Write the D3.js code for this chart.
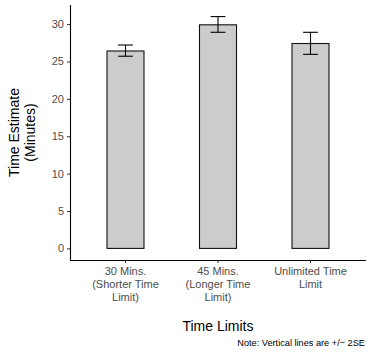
<!DOCTYPE html>
<html>
<head>
<meta charset="utf-8">
<script src="https://cdn.jsdelivr.net/npm/d3@7"></script>
<style>
  body { margin: 0; background: #fff; }
  text { font-family: "Liberation Sans", Arial, sans-serif; }
</style>
</head>
<body>
<div id="chart"></div>
<script>
// data
var categories = ["30 Mins.\n(Shorter Time\nLimit)", "45 Mins.\n(Longer Time\nLimit)", "Unlimited Time\nLimit"]
var means = [26.4, 29.9, 27.4]
var lower = [25.7, 28.9, 25.95]
var upper = [27.2, 31.0, 28.9]
var yTicks = [0, 5, 10, 15, 20, 25, 30]

var width = 371,
  height = 353,
  margin = {top: 5, right: 5, bottom: 93, left: 70}

var svg = d3.select("#chart").append("svg")
  .attr("width", width)
  .attr("height", height)

var x = d3.scaleLinear()
  .domain([0.4, 3.6])
  .range([margin.left, width - margin.right])

var yMax = d3.max(upper)
var y = d3.scaleLinear()
  .domain([-0.05 * yMax, yMax * 1.05])
  .range([height - margin.bottom, margin.top])

var barW = 0.4, capW = 0.16

var g = svg.append("g")

// bars
g.selectAll("rect")
  .data(means)
  .join("rect")
    .attr("x", (d, i) => x(i + 1 - barW / 2))
    .attr("width", x(1 + barW) - x(1))
    .attr("y", d => y(d))
    .attr("height", d => y(0) - y(d))
    .attr("fill", "#cccccc")
    .attr("stroke", "#111")
    .attr("stroke-width", 1.1)

// error bars
var eb = g.selectAll("g.eb")
  .data(means)
  .join("g")
    .attr("class", "eb")
    .attr("stroke", "#000")
    .attr("stroke-width", 1.1)
eb.append("line")
  .attr("x1", (d, i) => x(i + 1)).attr("x2", (d, i) => x(i + 1))
  .attr("y1", (d, i) => y(lower[i])).attr("y2", (d, i) => y(upper[i]))
eb.append("line")
  .attr("x1", (d, i) => x(i + 1 - capW / 2)).attr("x2", (d, i) => x(i + 1 + capW / 2))
  .attr("y1", (d, i) => y(upper[i])).attr("y2", (d, i) => y(upper[i]))
eb.append("line")
  .attr("x1", (d, i) => x(i + 1 - capW / 2)).attr("x2", (d, i) => x(i + 1 + capW / 2))
  .attr("y1", (d, i) => y(lower[i])).attr("y2", (d, i) => y(lower[i]))

// y axis
var yAxis = svg.append("g")
  .attr("transform", `translate(${margin.left},0)`)
  .call(d3.axisLeft(y).tickValues(yTicks).tickSize(3).tickPadding(3).tickSizeOuter(0))
yAxis.select(".domain").attr("stroke", "#000").attr("stroke-width", 1.1)
  .attr("d", `M0.5,${margin.top}V${height - margin.bottom}`)
yAxis.selectAll(".tick line").attr("stroke", "#333")
yAxis.selectAll(".tick text").attr("fill", "#4d4d4d").style("font-size", "11px")
  .style("font-family", "Liberation Sans, Arial, sans-serif")

// x axis
var xAxis = svg.append("g")
  .attr("transform", `translate(0,${height - margin.bottom})`)
xAxis.append("path")
  .attr("d", `M${margin.left},0.5H${width - margin.right}`)
  .attr("stroke", "#000").attr("stroke-width", 1.1)
xAxis.selectAll("line.t")
  .data(categories)
  .join("line")
    .attr("class", "t")
    .attr("x1", (d, i) => x(i + 1)).attr("x2", (d, i) => x(i + 1))
    .attr("y1", 0).attr("y2", 3)
    .attr("stroke", "#333")
xAxis.selectAll("text")
  .data(categories)
  .join("text")
    .attr("x", (d, i) => x(i + 1))
    .attr("text-anchor", "middle")
    .attr("fill", "#4d4d4d")
    .style("font-size", "11px")
    .selectAll("tspan")
    .data(d => d.split("\n"))
    .join("tspan")
      .attr("x", function () { return this.parentNode.getAttribute("x") })
      .attr("y", (d, i) => 15 + i * 12.8)
      .text(d => d)

// axis titles
svg.append("text")
  .attr("x", (margin.left + width - margin.right) / 2)
  .attr("y", 331)
  .attr("text-anchor", "middle")
  .style("font-size", "14px")
  .text("Time Limits")

var yt = svg.append("text")
  .attr("transform", `translate(0,${(margin.top + height - margin.bottom) / 2}) rotate(-90)`)
  .attr("text-anchor", "middle")
  .style("font-size", "14px")
yt.append("tspan").attr("x", 0).attr("y", 19).text("Time Estimate")
yt.append("tspan").attr("x", 0).attr("y", 35).text("(Minutes)")

// caption
svg.append("text")
  .attr("x", width - 6)
  .attr("y", 346)
  .attr("text-anchor", "end")
  .style("font-size", "9.2px")
  .text("Note:  Vertical lines are +/\u2212 2SE")
</script>
</body>
</html>
